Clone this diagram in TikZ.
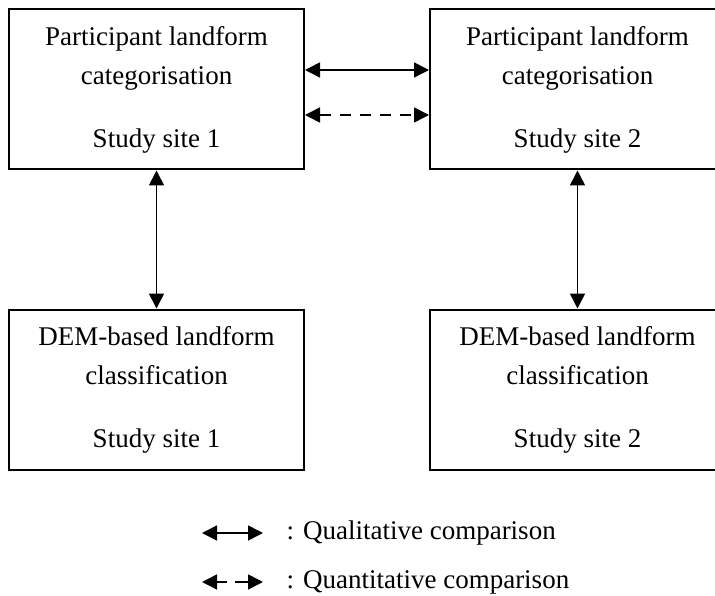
\documentclass[tikz,border=0pt]{standalone}
\usepackage{fontspec}
\setmainfont{Liberation Serif}
\usetikzlibrary{arrows.meta,positioning}

\tikzset{
  box/.style={draw, line width=2pt, minimum width=295pt, minimum height=160pt,
              align=center, inner sep=0pt, font=\fontsize{27}{39}\selectfont},
  qual/.style={{Triangle[length=15pt,width=15pt]}-{Triangle[length=15pt,width=15pt]}, line width=1.6pt},
  quant/.style={qual, dash pattern=on 11pt off 9pt},
  legtext/.style={anchor=west, font=\fontsize{27}{30}\selectfont}
}

\begin{document}
\begin{tikzpicture}[x=1pt,y=-1pt]
  \clip (0,0) rectangle (715,596);

  \node[box] (part1) at (156.5,89.5) {Participant landform\\categorisation\\[24pt]Study site 1};
  \node[box] (part2) at (577.5,89.5) {Participant landform\\categorisation\\[24pt]Study site 2};
  \node[box] (dem1) at (156.5,389.5) {DEM-based landform\\classification\\[24pt]Study site 1};
  \node[box] (dem2) at (577.5,389.5) {DEM-based landform\\classification\\[24pt]Study site 2};

  \draw[qual] (part1.east |- 0,70) -- (part2.west |- 0,70);
  \draw[quant] (part1.east |- 0,115) -- (part2.west |- 0,115);
  \draw[qual] (part1.south) -- (dem1.north);
  \draw[qual] (part2.south) -- (dem2.north);

  % legend
  \coordinate (l1a) at (202,533);
  \coordinate (l1b) at (263,533);
  \coordinate (l2a) at (202,582);
  \coordinate (l2b) at (263,582);
  \draw[qual] (l1a) -- (l1b);
  \draw[quant, dash pattern=on 10pt off 8pt on 20pt off 0pt] (l2a) -- (l2b);
  \node[legtext] (qualtext) at (283,533) {: Qualitative comparison};
  \node[legtext] (quanttext) at (283,582) {: Quantitative comparison};
\end{tikzpicture}
\end{document}
